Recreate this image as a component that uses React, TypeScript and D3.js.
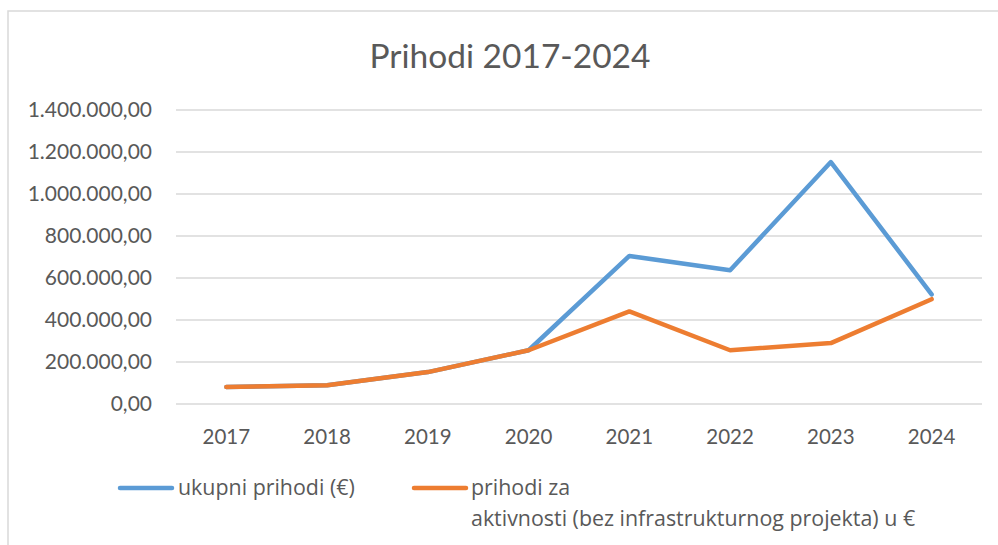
import React from "react";
import * as d3 from "d3";

const years = ["2017", "2018", "2019", "2020", "2021", "2022", "2023", "2024"];
const ukupniPrihodi = [81000, 89000, 152000, 256000, 705000, 637000, 1152000, 522000];
const prihodiAktivnosti = [81000, 89000, 152000, 256000, 441000, 256000, 290000, 499000];
const yTicks = [0, 200000, 400000, 600000, 800000, 1000000, 1200000, 1400000];

const W = 998;
const H = 545;
const FONT = "Lato, 'Open Sans', sans-serif";
const LEGEND_FONT = "'Open Sans', Lato, sans-serif";
const TEXT = "#595959";
const GRID = "#D9D9D9";
const BLUE = "#5B9BD5";
const ORANGE = "#ED7D31";

const fmt = (v: number) => {
  const s = d3.format(",.2f")(v);
  return s.replace(/,/g, "#").replace(".", ",").replace(/#/g, ".");
};

export default function App() {
  const margin = { left: 176, right: 16, top: 110, bottom: 141 };

  const x = d3
    .scaleBand()
    .domain(years)
    .range([margin.left, W - margin.right]);

  const y = d3
    .scaleLinear()
    .domain([0, 1400000])
    .range([H - margin.bottom, margin.top]);

  const line = d3
    .line<number>()
    .x((d, i) => (x(years[i]) as number) + x.bandwidth() / 2)
    .y(d => y(d));

  return (
    <div style={{ position: "fixed", left: 0, top: 0, width: W, height: H, background: "#fff" }}>
      <svg width={W} height={H} style={{ display: "block" }}>
        {/* chart area border */}
        <rect x={8} y={11} width={W + 10} height={H + 10} fill="none" stroke={GRID} strokeWidth={1.5} />

        <text x={510} y={68} textAnchor="middle" fontFamily={FONT} fontSize={33.5} fill={TEXT}>
          Prihodi 2017-2024
        </text>

        {/* gridlines + y labels */}
        {yTicks.map(t => (
          <g key={t}>
            <line x1={margin.left} x2={W - margin.right} y1={y(t)} y2={y(t)} stroke={GRID} strokeWidth={1.3} />
            <text x={152} y={y(t) + 7} textAnchor="end" fontFamily={FONT} fontSize={21} fill={TEXT}>
              {fmt(t)}
            </text>
          </g>
        ))}

        {/* x labels */}
        {years.map(yr => (
          <text
            key={yr}
            x={(x(yr) as number) + x.bandwidth() / 2}
            y={444}
            textAnchor="middle"
            fontFamily={FONT}
            fontSize={20.5}
            fill={TEXT}
          >
            {yr}
          </text>
        ))}

        <path d={line(ukupniPrihodi) || ""} fill="none" stroke={BLUE} strokeWidth={4.5} strokeLinecap="round" strokeLinejoin="round" />
        <path d={line(prihodiAktivnosti) || ""} fill="none" stroke={ORANGE} strokeWidth={4.5} strokeLinecap="round" strokeLinejoin="round" />

        {/* legend */}
        <line x1={120} x2={172} y1={488} y2={488} stroke={BLUE} strokeWidth={4.5} strokeLinecap="round" />
        <text x={178} y={495} fontFamily={LEGEND_FONT} fontSize={21.4} fill={TEXT}>
          ukupni prihodi (€)
        </text>
        <line x1={414} x2={466} y1={488} y2={488} stroke={ORANGE} strokeWidth={4.5} strokeLinecap="round" />
        <text x={471} y={495} fontFamily={LEGEND_FONT} fontSize={21.4} fill={TEXT}>
          prihodi za
        </text>
        <text x={471} y={526} fontFamily={LEGEND_FONT} fontSize={21.4} fill={TEXT}>
          aktivnosti (bez infrastrukturnog projekta) u €
        </text>
      </svg>
    </div>
  );
}
